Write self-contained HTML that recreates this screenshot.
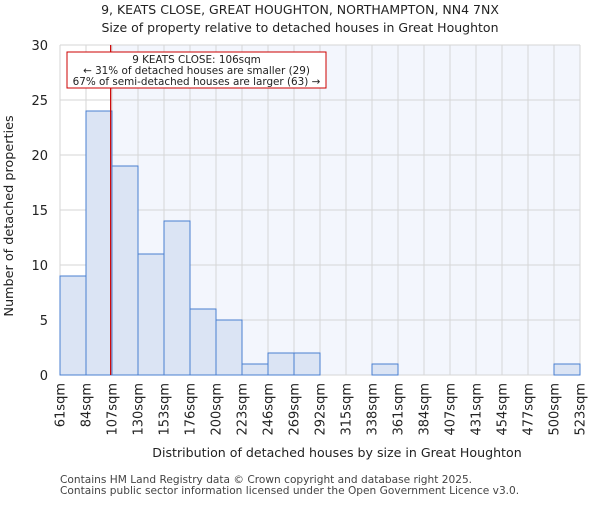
<!DOCTYPE html>
<html><head><meta charset="utf-8"><style>body{margin:0;background:#fff}svg{font-family:"DejaVu Sans","Liberation Sans",sans-serif}</style></head>
<body>
<svg id="chart" width="600" height="500" xmlns="http://www.w3.org/2000/svg">
<text x="300" y="14" text-anchor="middle" font-size="12.5" fill="#222">9, KEATS CLOSE, GREAT HOUGHTON, NORTHAMPTON, NN4 7NX</text>
<text x="300" y="32" text-anchor="middle" font-size="12.5" fill="#222">Size of property relative to detached houses in Great Houghton</text>
<g id="plot"></g>
<text x="337" y="457" text-anchor="middle" font-size="12.6" fill="#222">Distribution of detached houses by size in Great Houghton</text>
<text transform="translate(13,216) rotate(-90)" text-anchor="middle" font-size="12.8" fill="#222">Number of detached properties</text>
<text x="60" y="483" font-size="10.6" fill="#444">Contains HM Land Registry data © Crown copyright and database right 2025.</text>
<text x="60" y="494" font-size="10.6" fill="#444">Contains public sector information licensed under the Open Government Licence v3.0.</text>
</svg>
<script>
const binLabels=["61sqm","84sqm","107sqm","130sqm","153sqm","176sqm","200sqm","223sqm","246sqm","269sqm","292sqm","315sqm","338sqm","361sqm","384sqm","407sqm","431sqm","454sqm","477sqm","500sqm","523sqm"];
const counts=[9,24,19,11,14,6,5,1,2,2,0,0,1,0,0,0,0,0,0,1];
const yTicks=[0,5,10,15,20,25,30];
const marker=106;
const binStart=61, binStep=23.1;
const ns="http://www.w3.org/2000/svg";
const g=document.getElementById('plot');
const L=60,R=580,T=45,B=375,yMax=30;
const bw=(R-L)/counts.length;
const x=i=>L+i*bw;
const y=v=>B-v/yMax*(B-T);
const xv=v=>L+(v-binStart)/binStep*bw;
function el(t,a,parent){const e=document.createElementNS(ns,t);for(const k in a)e.setAttribute(k,a[k]);(parent||g).appendChild(e);return e;}
const mx=xv(marker);
const bg=el('rect',{x:mx,y:T,width:R-mx,height:B-T,fill:'#f3f6fd'});


for(let i=0;i<=counts.length;i++){const l=el('line',{x1:x(i),x2:x(i),y1:T,y2:B,stroke:'#d6d6d6','stroke-width':1});

}
yTicks.forEach(v=>{const l=el('line',{x1:L,x2:R,y1:y(v),y2:y(v),stroke:'#d6d6d6','stroke-width':1});


const t=el('text',{x:L-12,y:y(v)+5,'text-anchor':'end','font-size':13,fill:'#222'});t.textContent=v;

});
counts.forEach((c,i)=>{if(c<=0)return;const r=el('rect',{x:x(i),y:y(c),width:bw,height:B-y(c),fill:'#dbe4f4',stroke:'#4a7fd0','stroke-width':1});

});
binLabels.forEach((s,i)=>{const t=el('text',{transform:`translate(${x(i)+4.5},${B+8}) rotate(-90)`,'text-anchor':'end','font-size':13,fill:'#222'});t.textContent=s;

});
const ml=el('line',{x1:mx,x2:mx,y1:T,y2:B,stroke:'#cc0000','stroke-width':1.2});


const box=el('rect',{x:67,y:52,width:259,height:36,fill:'#fff',stroke:'#cc0000','stroke-width':1});


["9 KEATS CLOSE: 106sqm","← 31% of detached houses are smaller (29)","67% of semi-detached houses are larger (63) →"].forEach((s,i)=>{const t=el('text',{x:196.5,y:63+i*11,'text-anchor':'middle','font-size':10.4,fill:'#222'});t.textContent=s;

});
</script>
</body></html>
